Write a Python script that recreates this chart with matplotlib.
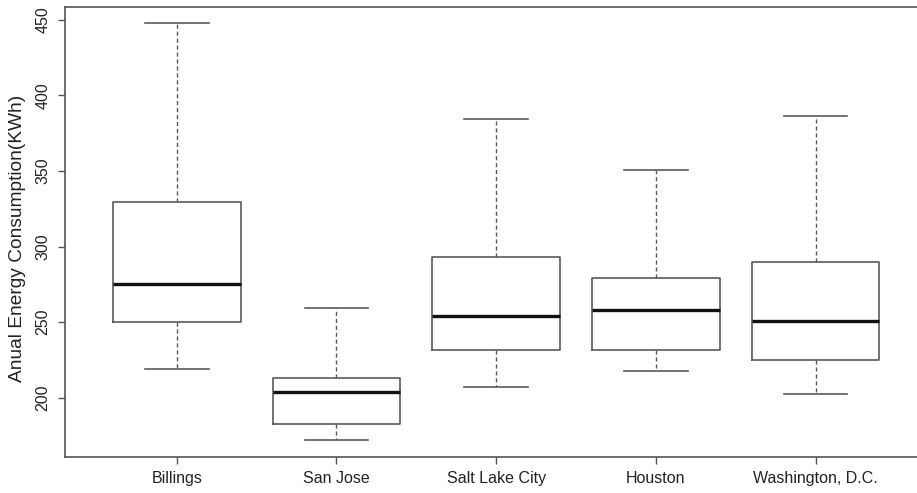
import matplotlib
matplotlib.use("Agg")
import matplotlib.pyplot as plt

cities = ["Billings", "San Jose", "Salt Lake City", "Houston", "Washington, D.C."]
whisker_low = [219.0, 171.8, 206.9, 217.7, 202.3]
q1 = [250.3, 182.6, 231.8, 231.8, 225.1]
median = [275.0, 204.0, 254.0, 257.8, 250.7]
q3 = [329.4, 213.2, 293.0, 279.2, 289.6]
whisker_high = [447.6, 259.1, 384.3, 350.6, 386.3]
yticks = [200, 250, 300, 350, 400, 450]
ylabel = "Anual Energy Consumption(KWh)"

plt.rcParams['font.family'] = ['Liberation Sans', 'DejaVu Sans']

W, H = 917, 493
fig = plt.figure(figsize=(W / 100, H / 100), dpi=100)
left_px, right_px, top_px, bottom_px = 65, 927.3, 7, 456.7
ax = fig.add_axes([left_px / W, (H - bottom_px) / H,
                   (right_px - left_px) / W, (bottom_px - top_px) / H])

stats = []
for i, c in enumerate(cities):
    stats.append(dict(label=c, whislo=whisker_low[i], q1=q1[i], med=median[i],
                      q3=q3[i], whishi=whisker_high[i], fliers=[]))

edge = "#5a5a5a"
positions = list(range(1, len(cities) + 1))
ax.bxp(stats, positions=positions, widths=0.8, showfliers=False,
       boxprops=dict(color=edge, linewidth=1.2),
       medianprops=dict(color="#111111", linewidth=2.4, solid_capstyle="butt"),
       whiskerprops=dict(color=edge, linewidth=1.0, linestyle=(0, (3, 2))),
       capprops=dict(color=edge, linewidth=1.2),
       capwidths=0.4)

ax.set_xlim(0.3, len(cities) + 0.7)
ax.set_ylim(161.0, 458.4)
ax.set_xticks(positions)
ax.set_xticklabels(cities)
ax.set_yticks(yticks)
ax.set_yticklabels([str(v) for v in yticks], rotation=90, va="center")

for s in ax.spines.values():
    s.set_color("#555555")
    s.set_linewidth(1.2)

ax.tick_params(axis="both", direction="out", length=5, width=1.0,
               color="#555555", labelsize=11.5, labelcolor="#222222", pad=5.5)

fig.text(18 / W, (H - 238) / H, ylabel, rotation=90, ha="center", va="center",
         fontsize=13.8, color="#222222")

fig.savefig("out.png", dpi=100)
